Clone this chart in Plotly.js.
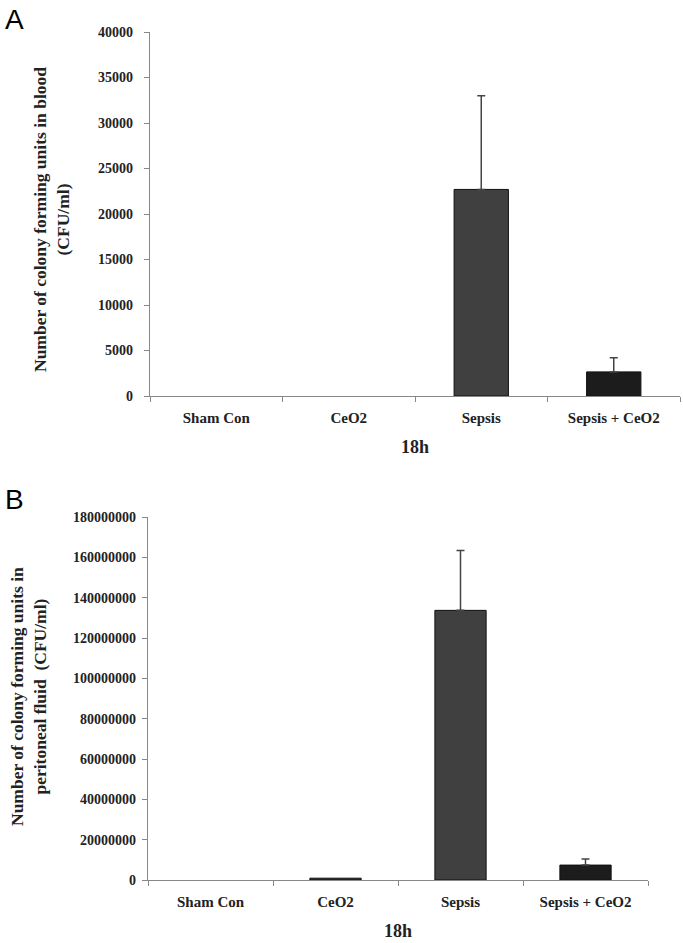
<!DOCTYPE html>
<html>
<head>
<meta charset="utf-8">
<script src="https://cdn.plot.ly/plotly-3.0.1.min.js"></script>
<style>html,body{margin:0;padding:0;background:#fff;}#chart{width:683px;height:943px;}</style>
</head>
<body>
<div id="chart"></div>
<script>
var categories = ["Sham Con", "CeO2", "Sepsis", "Sepsis + CeO2"];
var bloodValues = [0, 0, 22700, 2650];
var bloodErrors = [0, 0, 10300, 1550];
var fluidValues = [0, 900000, 133700000, 7400000];
var fluidErrors = [0, 0, 29700000, 3000000];
var bloodTicks = [0, 5000, 10000, 15000, 20000, 25000, 30000, 35000, 40000];
var fluidTicks = [0, 20000000, 40000000, 60000000, 80000000, 100000000, 120000000, 140000000, 160000000, 180000000];
var xTitle = "18h";
var bloodTitle = "Number of colony forming units in blood<br>(CFU/ml)";
var fluidTitle = "Number of colony forming units in<br>peritoneal fluid  (CFU/ml)";

var barColors = ["#3a3a3a", "#2e2e2e", "#404040", "#1c1c1c"];
var serif = "Liberation Serif, Times New Roman, serif";

function barTrace(vals, xa, ya) {
  return {
    type: "bar", x: categories, y: vals, xaxis: xa, yaxis: ya,
    width: 0.41,
    marker: {color: barColors, line: {color: "#111", width: vals.map(function(v){return v > 0 ? 1 : 0;})}},
    showlegend: false, hoverinfo: "x+y"
  };
}
function errTrace(vals, errs, xa, ya) {
  var idx = [];
  errs.forEach(function(e, i){ if (e > 0) idx.push(i); });
  return {
    type: "scatter", mode: "markers", xaxis: xa, yaxis: ya,
    x: idx.map(function(i){return categories[i];}),
    y: idx.map(function(i){return vals[i];}),
    marker: {size: 1, opacity: 0},
    error_y: {type: "data", array: idx.map(function(i){return errs[i];}),
              arrayminus: idx.map(function(){return 0;}), symmetric: false,
              color: "#444", thickness: 1.5, width: 4},
    showlegend: false, hoverinfo: "skip"
  };
}

var data = [
  barTrace(bloodValues, "x", "y"),
  errTrace(bloodValues, bloodErrors, "x", "y"),
  barTrace(fluidValues, "x2", "y2"),
  errTrace(fluidValues, fluidErrors, "x2", "y2")
];

var tickFontY = {family: serif, size: 14, color: "#222", weight: "bold"};
var tickFontX = {family: serif, size: 15, color: "#222", weight: "bold"};
function xaxis(domain, anchor) {
  return {
    domain: domain, anchor: anchor, type: "category",
    categoryorder: "array", categoryarray: categories,
    tickson: "boundaries", ticks: "outside", ticklen: 5, tickcolor: "#888",
    showline: true, linecolor: "#888", linewidth: 1.2, showgrid: false, zeroline: false,
    tickfont: tickFontX, ticklabelstandoff: 8,
    title: {text: xTitle, font: {family: serif, size: 18, color: "#222", weight: "bold"}, standoff: 15}
  };
}
function yaxis(domain, anchor, ticks, standoff) {
  return {
    domain: domain, anchor: anchor, range: [0, ticks[ticks.length - 1]],
    tickmode: "array", tickvals: ticks, ticktext: ticks.map(String),
    ticks: "outside", ticklen: 5, tickcolor: "#888",
    showline: true, linecolor: "#888", linewidth: 1.2, showgrid: false, zeroline: false,
    tickfont: tickFontY, ticklabelstandoff: standoff
  };
}
function yTitle(text, x, y) {
  return {text: text, xref: "paper", yref: "paper", x: x/683, y: 1 - y/943,
          xanchor: "center", yanchor: "middle", textangle: -90, showarrow: false,
          font: {family: serif, size: 17.5, color: "#222", weight: "bold"}};
}

var layout = {
  width: 683, height: 943,
  margin: {l: 0, r: 0, t: 0, b: 0},
  paper_bgcolor: "#fff", plot_bgcolor: "#fff",
  xaxis: xaxis([150/683, 680/683], "y"),
  yaxis: yaxis([1 - 396/943, 1 - 32/943], "x", bloodTicks, 8),
  xaxis2: xaxis([148/683, 648/683], "y2"),
  yaxis2: yaxis([1 - 880/943, 1 - 517/943], "x2", fluidTicks, 3),
  annotations: [
    {text: "A", xref: "paper", yref: "paper", x: 3/683, y: 1 - 2/943, xanchor: "left", yanchor: "top",
     showarrow: false, font: {family: "Liberation Sans, Arial, sans-serif", size: 28, color: "#000"}},
    {text: "B", xref: "paper", yref: "paper", x: 3/683, y: 1 - 482/943, xanchor: "left", yanchor: "top",
     showarrow: false, font: {family: "Liberation Sans, Arial, sans-serif", size: 28, color: "#000"}},
    yTitle(bloodTitle, 52, 220),
    yTitle(fluidTitle, 28, 697)
  ]
};

Plotly.newPlot("chart", data, layout, {displayModeBar: false, staticPlot: true});
</script>
</body>
</html>
